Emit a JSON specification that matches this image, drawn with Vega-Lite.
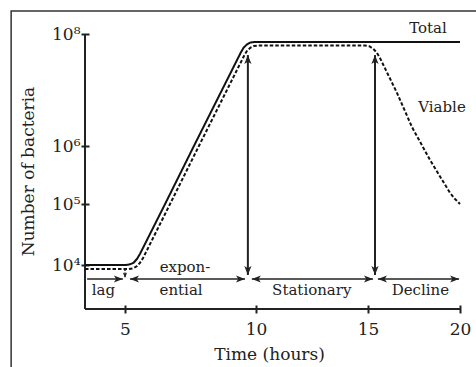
{
  "$schema": "https://vega.github.io/schema/vega-lite/v6.json",
  "width": 375,
  "height": 275,
  "autosize": "none",
  "padding": {"left": 85, "top": 34, "right": 16, "bottom": 58},
  "background": "white",
  "config": {"font": "DejaVu Serif", "view": {"stroke": null}},
  "datasets": {
    "curves": [
      {"series": "Total", "hours": 3.5, "count": 10000},
      {"series": "Total", "hours": 5.04, "count": 10000},
      {"series": "Total", "hours": 5.19, "count": 10260},
      {"series": "Total", "hours": 5.33, "count": 10890},
      {"series": "Total", "hours": 5.46, "count": 12630},
      {"series": "Total", "hours": 5.57, "count": 15150},
      {"series": "Total", "hours": 6.53, "count": 100000},
      {"series": "Total", "hours": 7.63, "count": 1000000},
      {"series": "Total", "hours": 9.43, "count": 47700000},
      {"series": "Total", "hours": 9.53, "count": 57100000},
      {"series": "Total", "hours": 9.65, "count": 64900000},
      {"series": "Total", "hours": 9.78, "count": 70100000},
      {"series": "Total", "hours": 9.92, "count": 72000000},
      {"series": "Total", "hours": 20, "count": 72000000},
      {"series": "Viable", "hours": 3.5, "count": 8600},
      {"series": "Viable", "hours": 5.15, "count": 8600},
      {"series": "Viable", "hours": 5.31, "count": 8830},
      {"series": "Viable", "hours": 5.45, "count": 9540},
      {"series": "Viable", "hours": 5.57, "count": 10860},
      {"series": "Viable", "hours": 5.69, "count": 13030},
      {"series": "Viable", "hours": 6.72, "count": 100000},
      {"series": "Viable", "hours": 7.82, "count": 1000000},
      {"series": "Viable", "hours": 9.58, "count": 44000000},
      {"series": "Viable", "hours": 9.67, "count": 51200000},
      {"series": "Viable", "hours": 9.79, "count": 57100000},
      {"series": "Viable", "hours": 9.92, "count": 61000000},
      {"series": "Viable", "hours": 10.1, "count": 62400000},
      {"series": "Viable", "hours": 14.85, "count": 62400000},
      {"series": "Viable", "hours": 15.07, "count": 60400000},
      {"series": "Viable", "hours": 15.28, "count": 54800000},
      {"series": "Viable", "hours": 15.47, "count": 46700000},
      {"series": "Viable", "hours": 15.65, "count": 37300000},
      {"series": "Viable", "hours": 16.58, "count": 8800000},
      {"series": "Viable", "hours": 17.39, "count": 2180000},
      {"series": "Viable", "hours": 18.37, "count": 574000},
      {"series": "Viable", "hours": 19.46, "count": 155000},
      {"series": "Viable", "hours": 19.73, "count": 122000},
      {"series": "Viable", "hours": 20, "count": 100000}
    ],
    "varrows": [
      {"hours": 9.69, "count": 6860, "count2": 42000000},
      {"hours": 15.38, "count": 6860, "count2": 42000000}
    ],
    "harrows": [
      {"phase": "lag", "hours": 3.58, "hours2": 4.92, "count": 5900},
      {"phase": "exponential", "hours": 5.19, "hours2": 9.58, "count": 5900},
      {"phase": "stationary", "hours": 9.84, "hours2": 15.27, "count": 5900},
      {"phase": "decline", "hours": 15.54, "hours2": 19.95, "count": 5900}
    ],
    "heads": [
      {"dir": "up", "hours": 9.69, "count": 42000000},
      {"dir": "down", "hours": 9.69, "count": 6860},
      {"dir": "up", "hours": 15.38, "count": 42000000},
      {"dir": "down", "hours": 15.38, "count": 6860},
      {"dir": "right", "hours": 4.92, "count": 5900},
      {"dir": "left", "hours": 5.19, "count": 5900},
      {"dir": "right", "hours": 9.58, "count": 5900},
      {"dir": "left", "hours": 9.84, "count": 5900},
      {"dir": "right", "hours": 15.27, "count": 5900},
      {"dir": "left", "hours": 15.54, "count": 5900},
      {"dir": "right", "hours": 19.95, "count": 5900}
    ],
    "smallarrow": [{"hours": 5.0, "count": 8600, "count2": 6400}],
    "smallhead": [{"hours": 5.0, "count": 6120}],
    "labels": [
      {"label": "Total", "hours": 18.26, "count": 128000000},
      {"label": "Viable", "hours": 19.02, "count": 5000000},
      {"label": "lag", "hours": 4.19, "count": 3900},
      {"label": "expon-", "hours": 7.29, "count": 9300},
      {"label": "ential", "hours": 7.14, "count": 3900},
      {"label": "Stationary", "hours": 12.49, "count": 3900},
      {"label": "Decline", "hours": 17.85, "count": 3900}
    ]
  },
  "encoding": {
    "x": {
      "field": "hours", "type": "quantitative",
      "scale": {"type": "linear", "domain": [3.5, 5, 10, 15, 20], "range": [0, 40, 171, 283, 375], "nice": false, "zero": false},
      "axis": {"title": "Time (hours)", "values": [5, 10, 15, 20], "domain": false, "grid": false, "offset": -4, "tickSize": 8, "tickWidth": 2, "tickColor": "#222222", "labelFontSize": 17, "labelColor": "#222222", "labelFont": "DejaVu Serif", "labelPadding": 8, "labelFlush": false, "labelOverlap": false, "titleFont": "DejaVu Serif", "titleFontSize": 17, "titleFontWeight": "normal", "titleColor": "#222222", "titleX": 184, "titleY": 49, "titleBaseline": "middle", "titleAlign": "center"}
    },
    "y": {
      "field": "count", "type": "quantitative",
      "scale": {"type": "log", "domain": [1900, 10000, 100000, 1000000, 100000000], "range": [275, 231, 170, 112, 0], "nice": false},
      "axis": {"title": "Number of bacteria", "values": [10000, 100000, 1000000, 100000000], "labelExpr": "'10' + (datum.value == 10000 ? '⁴' : datum.value == 100000 ? '⁵' : datum.value == 1000000 ? '⁶' : '⁸')", "domain": false, "grid": false, "offset": -4, "tickSize": 8, "tickWidth": 2, "tickColor": "#222222", "labelFontSize": 17, "labelColor": "#222222", "labelFont": "DejaVu Serif", "labelPadding": 1, "labelOverlap": false, "titleFont": "DejaVu Serif", "titleFontSize": 17, "titleFontWeight": "normal", "titleColor": "#222222", "titleX": -61, "titleY": 137, "titleAngle": -90, "titleBaseline": "middle", "titleAlign": "center"}
    }
  },
  "layer": [
    {
      "data": {"values": [{"hours": 0.73, "hours2": 22, "count": 257000000, "count2": 150}]},
      "mark": {"type": "rect", "filled": false, "color": "#333333", "strokeWidth": 1.5, "clip": false},
      "encoding": {"x2": {"field": "hours2"}, "y2": {"field": "count2"}}
    },
    {
      "data": {"values": [{"hours": 3.5, "count": 1900, "count2": 100000000}]},
      "mark": {"type": "rule", "color": "#222222", "strokeWidth": 2},
      "encoding": {"y2": {"field": "count2"}}
    },
    {
      "data": {"values": [{"hours": 3.5, "hours2": 20, "count": 1900}]},
      "mark": {"type": "rule", "color": "#222222", "strokeWidth": 2},
      "encoding": {"x2": {"field": "hours2"}}
    },
    {
      "data": {"name": "curves"},
      "mark": {"type": "line", "interpolate": "linear", "color": "#111111", "strokeWidth": 2},
      "encoding": {
        "strokeDash": {"field": "series", "type": "nominal", "scale": {"domain": ["Total", "Viable"], "range": [[1, 0], [3.5, 2]]}, "legend": null}
      }
    },
    {
      "data": {"name": "varrows"},
      "mark": {"type": "rule", "color": "#222222", "strokeWidth": 2},
      "encoding": {"y2": {"field": "count2"}}
    },
    {
      "data": {"name": "harrows"},
      "mark": {"type": "rule", "color": "#222222", "strokeWidth": 1.5},
      "encoding": {"x2": {"field": "hours2"}}
    },
    {
      "data": {"name": "heads"},
      "transform": [{"filter": "datum.dir == 'up'"}],
      "mark": {"type": "point", "shape": "M0,0L0.8,2L0,1.5L-0.8,2Z", "filled": true, "color": "#222222", "opacity": 1, "size": 81, "angle": 0, "strokeWidth": 0}
    },
    {
      "data": {"name": "heads"},
      "transform": [{"filter": "datum.dir == 'down'"}],
      "mark": {"type": "point", "shape": "M0,0L0.8,2L0,1.5L-0.8,2Z", "filled": true, "color": "#222222", "opacity": 1, "size": 81, "angle": 180, "strokeWidth": 0}
    },
    {
      "data": {"name": "heads"},
      "transform": [{"filter": "datum.dir == 'right'"}],
      "mark": {"type": "point", "shape": "M0,0L0.8,2L0,1.5L-0.8,2Z", "filled": true, "color": "#222222", "opacity": 1, "size": 81, "angle": 90, "strokeWidth": 0}
    },
    {
      "data": {"name": "heads"},
      "transform": [{"filter": "datum.dir == 'left'"}],
      "mark": {"type": "point", "shape": "M0,0L0.8,2L0,1.5L-0.8,2Z", "filled": true, "color": "#222222", "opacity": 1, "size": 81, "angle": 270, "strokeWidth": 0}
    },
    {
      "data": {"name": "smallarrow"},
      "mark": {"type": "rule", "color": "#222222", "strokeWidth": 1.5, "strokeDash": [2, 1.5]},
      "encoding": {"y2": {"field": "count2"}}
    },
    {
      "data": {"name": "smallhead"},
      "mark": {"type": "point", "shape": "M0,0L0.8,2L0,1.5L-0.8,2Z", "filled": true, "color": "#222222", "opacity": 1, "size": 30, "angle": 180, "strokeWidth": 0}
    },
    {
      "data": {"name": "labels"},
      "mark": {"type": "text", "fontSize": 15, "color": "#222222", "align": "center", "baseline": "middle", "font": "DejaVu Serif"},
      "encoding": {"text": {"field": "label"}}
    }
  ]
}
